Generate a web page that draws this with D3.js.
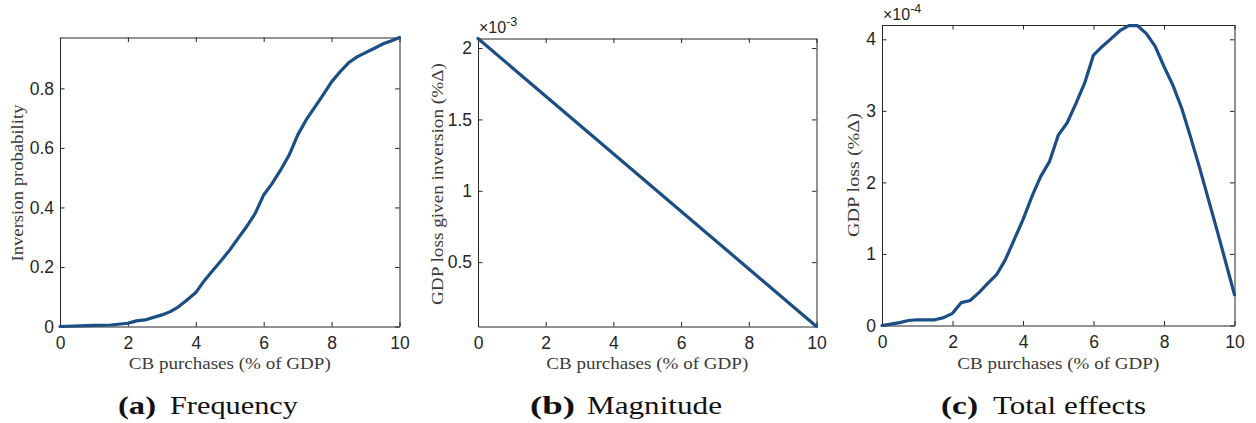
<!DOCTYPE html>
<html>
<head>
<meta charset="utf-8">
<script src="https://cdn.jsdelivr.net/npm/d3@7"></script>
<style>
  body { margin: 0; background: #fff; }
  svg { display: block; }
</style>
</head>
<body>
<div id="chart"></div>
<script>
// Data
var xFreq = [0, 1, 1.5, 2, 2.25, 2.5, 3, 3.25, 3.5, 3.75, 4, 4.25, 4.5, 4.75, 5, 5.25, 5.5, 5.75, 6, 6.25, 6.5, 6.75, 7, 7.25, 7.5, 7.75, 8, 8.25, 8.5, 8.75, 9, 9.25, 9.5, 9.75, 10];
var freqValues = [0, 0.004, 0.005, 0.011, 0.019, 0.022, 0.039, 0.05, 0.067, 0.09, 0.114, 0.154, 0.188, 0.222, 0.257, 0.297, 0.336, 0.38, 0.442, 0.481, 0.526, 0.576, 0.643, 0.694, 0.736, 0.778, 0.822, 0.856, 0.886, 0.906, 0.92, 0.934, 0.949, 0.959, 0.971];

var xMag = [0, 10];
var magValues = [2.067, 0.049]; // x 1e-3

var xTotal = [0, 0.25, 0.5, 0.75, 1, 1.5, 1.75, 2, 2.25, 2.5, 2.75, 3, 3.25, 3.5, 3.75, 4, 4.25, 4.5, 4.75, 5, 5.25, 5.5, 5.75, 6, 6.25, 6.5, 6.75, 7, 7.25, 7.5, 7.75, 8, 8.25, 8.5, 8.75, 9, 9.5, 10];
var totalValues = [0, 0.02, 0.04, 0.07, 0.08, 0.08, 0.11, 0.17, 0.32, 0.35, 0.46, 0.59, 0.71, 0.92, 1.2, 1.48, 1.8, 2.08, 2.29, 2.66, 2.83, 3.1, 3.39, 3.78, 3.9, 4.01, 4.12, 4.19, 4.19, 4.08, 3.9, 3.62, 3.36, 3.04, 2.64, 2.22, 1.34, 0.43]; // x 1e-4

var xTicks = [0, 2, 4, 6, 8, 10];
var freqTicks = [0, 0.2, 0.4, 0.6, 0.8];
var magTicks = [0.5, 1, 1.5, 2];
var totalTicks = [0, 1, 2, 3, 4];

var xTitle = "CB purchases (% of GDP)";

var W = 1256, H = 423;
var lineColor = "#1a4e85";
var axisColor = "#262626";
var sansFont = "'Liberation Sans', Arial, Helvetica, sans-serif";
var serifFont = "'Liberation Serif', 'Times New Roman', serif";

var svg = d3.select("#chart").append("svg")
  .attr("width", W)
  .attr("height", H);

function drawPanel(p) {
  var x = d3.scaleLinear().domain([0, 10]).range([p.left, p.right]);
  var y = d3.scaleLinear().domain(p.yDomain).range([p.bottom, p.top]);
  var g = svg.append("g");

  // box with inward ticks on all four sides
  var tk = 4.5;
  var axB = g.append("g").attr("transform", "translate(0," + p.bottom + ")")
    .call(d3.axisBottom(x).tickValues(xTicks).tickSizeInner(-tk).tickSizeOuter(0).tickPadding(10));
  var axT = g.append("g").attr("transform", "translate(0," + p.top + ")")
    .call(d3.axisTop(x).tickValues(xTicks).tickSizeInner(-tk).tickSizeOuter(0).tickFormat(""));
  var axL = g.append("g").attr("transform", "translate(" + p.left + ",0)")
    .call(d3.axisLeft(y).tickValues(p.yTicks).tickSizeInner(-tk).tickSizeOuter(0).tickPadding(6)
      .tickFormat(function(d) { return d3.format("~g")(d); }));
  var axR = g.append("g").attr("transform", "translate(" + p.right + ",0)")
    .call(d3.axisRight(y).tickValues(p.yTicks).tickSizeInner(-tk).tickSizeOuter(0).tickFormat(""));

  [axB, axT, axL, axR].forEach(function(a) {
    a.select(".domain").attr("stroke", axisColor).attr("stroke-width", 1);
    a.selectAll(".tick line").attr("stroke", axisColor).attr("stroke-width", 1);
    a.selectAll("text")
      .attr("fill", axisColor)
      .style("font-family", sansFont)
      .style("font-size", "17.5px");
  });
  axB.selectAll("text").attr("dy", "0.71em");

  // the curve
  var line = d3.line()
    .x(function(d) { return x(d[0]); })
    .y(function(d) { return y(d[1]); });
  g.append("path")
    .datum(d3.zip(p.xs, p.ys))
    .attr("d", line)
    .attr("fill", "none")
    .attr("stroke", lineColor)
    .attr("stroke-width", 3.2)
    .attr("stroke-linejoin", "round")
    .attr("stroke-linecap", "round");

  // exponent label
  if (p.exp) {
    var t = g.append("text")
      .attr("x", p.left + 1)
      .attr("y", p.expY)
      .attr("fill", axisColor)
      .style("font-family", sansFont)
      .style("font-size", "16px");
    t.append("tspan").text("\u00d710");
    t.append("tspan").attr("dy", -7).style("font-size", "12.5px").text(p.exp);
  }

  // x title
  g.append("text")
    .attr("x", (p.left + p.right) / 2)
    .attr("y", 369)
    .attr("text-anchor", "middle")
    .attr("fill", "#3a3a3a")
    .attr("textLength", 202)
    .attr("lengthAdjust", "spacingAndGlyphs")
    .style("font-family", serifFont)
    .style("font-size", "17px")
    .text(xTitle);

  // y title
  g.append("text")
    .attr("transform", "translate(" + p.yTitleX + "," + p.yTitleY + ") rotate(-90)")
    .attr("text-anchor", "middle")
    .attr("fill", "#3a3a3a")
    .attr("textLength", p.yTitleLen)
    .attr("lengthAdjust", "spacingAndGlyphs")
    .style("font-family", serifFont)
    .style("font-size", "17px")
    .text(p.yTitle);

  // caption
  g.append("text")
    .attr("x", p.capX[0])
    .attr("y", 414)
    .attr("fill", "#111")
    .attr("textLength", p.capX[1] - p.capX[0])
    .attr("lengthAdjust", "spacingAndGlyphs")
    .style("font-family", serifFont)
    .style("font-size", "26px")
    .style("font-weight", "bold")
    .text(p.capTag);
  g.append("text")
    .attr("x", p.capX[2])
    .attr("y", 414)
    .attr("fill", "#111")
    .attr("textLength", p.capX[3] - p.capX[2])
    .attr("lengthAdjust", "spacingAndGlyphs")
    .style("font-family", serifFont)
    .style("font-size", "26px")
    .text(p.capText);
}

drawPanel({
  left: 60, right: 399.5, top: 37.5, bottom: 326.5,
  yDomain: [0, 0.971], yTicks: freqTicks,
  xs: xFreq, ys: freqValues,
  yTitle: "Inversion probability", yTitleX: 23, yTitleY: 183, yTitleLen: 157,
  capTag: "(a)", capText: "Frequency", capX: [118, 156, 170, 298]
});

drawPanel({
  left: 478, right: 816.5, top: 38.5, bottom: 326.5,
  yDomain: [0.049, 2.067], yTicks: magTicks,
  xs: xMag, ys: magValues,
  exp: "-3", expY: 33,
  yTitle: "GDP loss given inversion (%\u0394)", yTitleX: 443, yTitleY: 184, yTitleLen: 242,
  capTag: "(b)", capText: "Magnitude", capX: [530, 575, 587, 722]
});

drawPanel({
  left: 882, right: 1234.5, top: 25, bottom: 325.5,
  yDomain: [0, 4.2], yTicks: totalTicks,
  xs: xTotal, ys: totalValues,
  exp: "-4", expY: 20,
  yTitle: "GDP loss (%\u0394)", yTitleX: 859, yTitleY: 175, yTitleLen: 124,
  capTag: "(c)", capText: "Total effects", capX: [941, 978, 993, 1146]
});
</script>
</body>
</html>
